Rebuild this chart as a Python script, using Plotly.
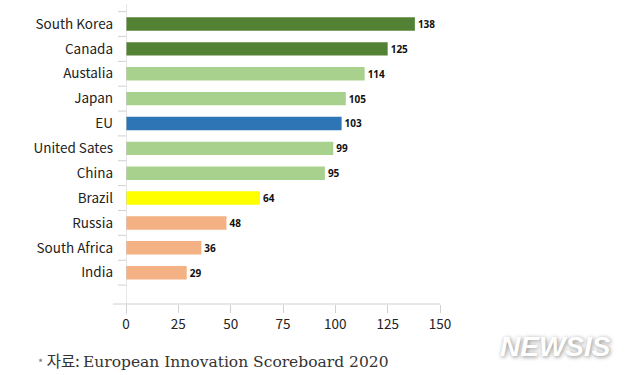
import plotly.graph_objects as go

countries = ["South Korea", "Canada", "Austalia", "Japan", "EU", "United Sates",
             "China", "Brazil", "Russia", "South Africa", "India"]
scores = [138, 125, 114, 105, 103, 99, 95, 64, 48, 36, 29]
colors = ["#548235", "#548235", "#a9d18e", "#a9d18e", "#2e75b6", "#a9d18e",
          "#a9d18e", "#ffff00", "#f4b183", "#f4b183", "#f4b183"]
x_ticks = [0, 25, 50, 75, 100, 125, 150]
source_note = "* 자료: European Innovation Scoreboard 2020"

fig = go.Figure(go.Bar(
    x=scores, y=countries, orientation="h",
    marker=dict(color=colors, line=dict(width=0)),
    text=[str(v) for v in scores], textposition="outside", constraintext="none",
    textfont=dict(family="Noto Sans, Arial", size=10, color="#111111", weight="bold"),
    cliponaxis=False, width=0.54,
))

fig.update_layout(
    width=640, height=375,
    margin=dict(l=126, r=200, t=4, b=71, autoexpand=False),
    paper_bgcolor="white", plot_bgcolor="white",
    showlegend=False,
    font=dict(family="Noto Sans CJK KR, Noto Sans", color="#222222"),
    xaxis=dict(range=[0, 150], tickvals=x_ticks, ticktext=[str(t) for t in x_ticks],
               showgrid=False, zeroline=False, showline=False, automargin=False,
               ticks="outside", ticklen=8, tickcolor="#d0d0d0", tickwidth=1,
               tickfont=dict(size=13.5, color="#222222"), fixedrange=True),
    yaxis=dict(categoryorder="array", categoryarray=countries, automargin=False,
               range=[11.26, -0.805], showgrid=False, zeroline=False,
               showline=False, ticks="", tickfont=dict(size=13.5, color="#222222"),
               ticklabelstandoff=12, fixedrange=True),
)

# axis lines and y tick marks (Excel style)
fig.add_shape(type="line", xref="paper", yref="paper", x0=-13/314, x1=1, y0=0, y1=0,
              line=dict(color="#d0d0d0", width=1))
fig.add_shape(type="line", xref="x", yref="paper", x0=0, x1=0, y0=-11/300, y1=1,
              line=dict(color="#d0d0d0", width=1))
for i in range(12):
    fig.add_shape(type="line", xref="paper", yref="y", x0=-8/314, x1=0,
                  y0=i - 0.5, y1=i - 0.5, line=dict(color="#d0d0d0", width=1))

fig.add_annotation(
    text="<span style='font-family:Noto Sans CJK KR;font-size:11px;fill:#777777'>*</span> "
         "<span style='font-family:Noto Sans CJK KR'>자료:</span> "
         "<span style='font-family:DejaVu Serif, Liberation Serif'>European Innovation Scoreboard 2020</span>",
    xref="paper", yref="paper", x=-90/314, y=-56/300, xanchor="left", yanchor="middle",
    showarrow=False, font=dict(size=15.5, color="#333333"))

fig.add_annotation(
    text="<i><b>NEWSIS</b></i>", xref="paper", yref="paper", x=(555 - 126) / 314,
    y=-42/300, xanchor="center", yanchor="middle", showarrow=False,
    font=dict(size=28, color="#ffffff", family="Liberation Sans", shadow="1px 1px 4px #888888"))

fig.write_html("out.html", config={"displayModeBar": False},
               post_script="document.body.style.margin='0';document.body.style.overflow='hidden';")
